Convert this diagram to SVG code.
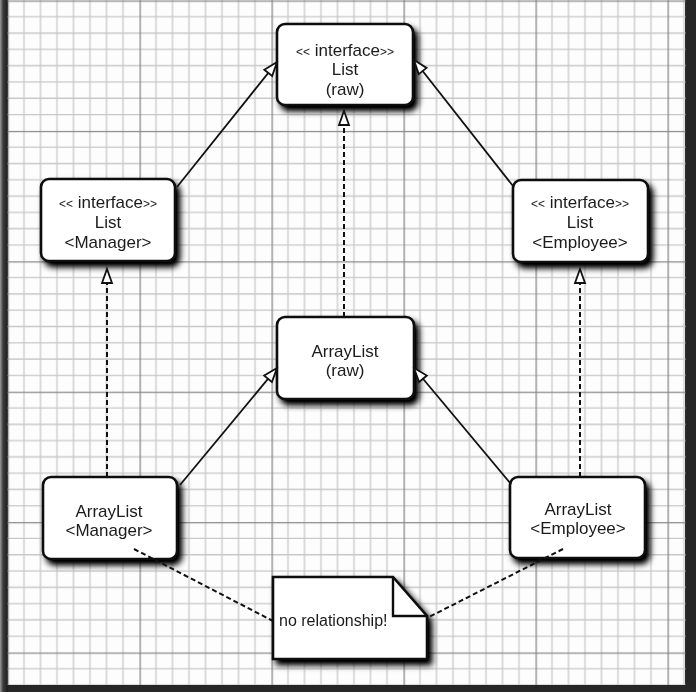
<svg xmlns="http://www.w3.org/2000/svg" width="696" height="692" viewBox="0 0 696 692">
<defs>
<linearGradient id="leftEdge" x1="0" y1="0" x2="1" y2="0">
<stop offset="0" stop-color="#9a9a9a"/>
<stop offset="0.4" stop-color="#3a3a3a"/>
<stop offset="1" stop-color="#1c1c1c"/>
</linearGradient>
<pattern id="grid" patternUnits="userSpaceOnUse" x="7.5" y="0.5" width="132" height="130.4">
<path d="M16.5,0V130.4M33,0V130.4M49.5,0V130.4M66,0V130.4M82.5,0V130.4M99,0V130.4M115.5,0V130.4M0,16.3H132M0,32.6H132M0,48.9H132M0,65.2H132M0,81.5H132M0,97.8H132M0,114.1H132" stroke="#c8c8c8" stroke-width="1.3" fill="none"/>
<path d="M0.6,0V130.4M0,0.6H132" stroke="#8a8a8a" stroke-width="1.4" fill="none"/>
</pattern>
<filter id="shadow" x="-20%" y="-20%" width="150%" height="150%">
<feGaussianBlur in="SourceAlpha" stdDeviation="3"/>
<feOffset dx="4" dy="5" result="b"/>
<feComponentTransfer><feFuncA type="linear" slope="1.1"/></feComponentTransfer>
<feMerge><feMergeNode/><feMergeNode in="SourceGraphic"/></feMerge>
</filter>
<marker id="tri" markerUnits="userSpaceOnUse" markerWidth="18" markerHeight="14" viewBox="0 0 18 14" refX="16" refY="7" orient="auto">
<path d="M2,2 L16,7 L2,12 Z" fill="#fff" stroke="#111" stroke-width="1.8" stroke-linejoin="miter"/>
</marker>
<style>
.box{fill:#fff;stroke:#111;stroke-width:2.6}
.t{font-family:"Liberation Sans",Arial,Helvetica,sans-serif;font-size:17px;fill:#1a1a1a;text-anchor:middle}
.g{font-size:12px}
.solid{stroke:#111;stroke-width:1.8;fill:none}
.dash{stroke:#111;stroke-width:2;fill:none;stroke-dasharray:5 3}
</style>
</defs>

<rect x="0" y="0" width="696" height="692" fill="#262626"/>
<rect x="0" y="0" width="8" height="692" fill="url(#leftEdge)"/>
<rect x="8" y="0" width="677" height="685" fill="#fdfdfd"/>
<rect x="7.5" y="0" width="678" height="685" fill="url(#grid)"/>

<g id="node-list-raw" filter="url(#shadow)">
<rect class="box" x="277" y="24" width="136" height="81" rx="8"/>
<text class="t" x="345" y="55.5"><tspan class="g">&lt;&lt;</tspan> interface<tspan class="g">&gt;&gt;</tspan></text>
<text class="t" x="345" y="75">List</text>
<text class="t" x="345" y="95">(raw)</text>
</g>

<g id="node-list-manager" filter="url(#shadow)">
<rect class="box" x="41" y="179" width="134" height="82" rx="8"/>
<text class="t" x="108" y="208"><tspan class="g">&lt;&lt;</tspan> interface<tspan class="g">&gt;&gt;</tspan></text>
<text class="t" x="108" y="228">List</text>
<text class="t" x="108" y="248">&lt;Manager&gt;</text>
</g>

<g id="node-list-employee" filter="url(#shadow)">
<rect class="box" x="513" y="180" width="135" height="82" rx="8"/>
<text class="t" x="580" y="208"><tspan class="g">&lt;&lt;</tspan> interface<tspan class="g">&gt;&gt;</tspan></text>
<text class="t" x="580" y="228">List</text>
<text class="t" x="580" y="248">&lt;Employee&gt;</text>
</g>

<g id="node-arraylist-raw" filter="url(#shadow)">
<rect class="box" x="277" y="317" width="137" height="82" rx="8"/>
<text class="t" x="345" y="357">ArrayList</text>
<text class="t" x="345" y="376">(raw)</text>
</g>

<g id="node-arraylist-manager" filter="url(#shadow)">
<rect class="box" x="43" y="477" width="134" height="82" rx="8"/>
<text class="t" x="109" y="517">ArrayList</text>
<text class="t" x="109" y="536">&lt;Manager&gt;</text>
</g>

<g id="node-arraylist-employee" filter="url(#shadow)">
<rect class="box" x="510" y="477" width="135" height="81" rx="8"/>
<text class="t" x="578" y="515">ArrayList</text>
<text class="t" x="578" y="534">&lt;Employee&gt;</text>
</g>

<g id="node-note" filter="url(#shadow)">
<path class="box" d="M273,577 H393 L427,616 V659 H273 Z" stroke-linejoin="miter"/>
<path d="M393,577 V616 H427" fill="none" stroke="#111" stroke-width="2.4"/>
<text class="t" x="279" y="626" style="text-anchor:start;font-size:16px">no relationship!</text>
</g>

<g id="connectors">
<path class="solid" d="M177,187 L277,62" marker-end="url(#tri)"/>
<path class="solid" d="M513,186 L414,60" marker-end="url(#tri)"/>
<path class="solid" d="M180,485 L277,368" marker-end="url(#tri)"/>
<path class="solid" d="M511,484 L414,368" marker-end="url(#tri)"/>
<path class="dash" d="M344,317 L344,111" marker-end="url(#tri)"/>
<path class="dash" d="M107,477 L107,269" marker-end="url(#tri)"/>
<path class="dash" d="M580,477 L580,269" marker-end="url(#tri)"/>
<path class="dash" d="M134,549 L273,621"/>
<path class="dash" d="M563,549 L427,618"/>
</g>
</svg>
